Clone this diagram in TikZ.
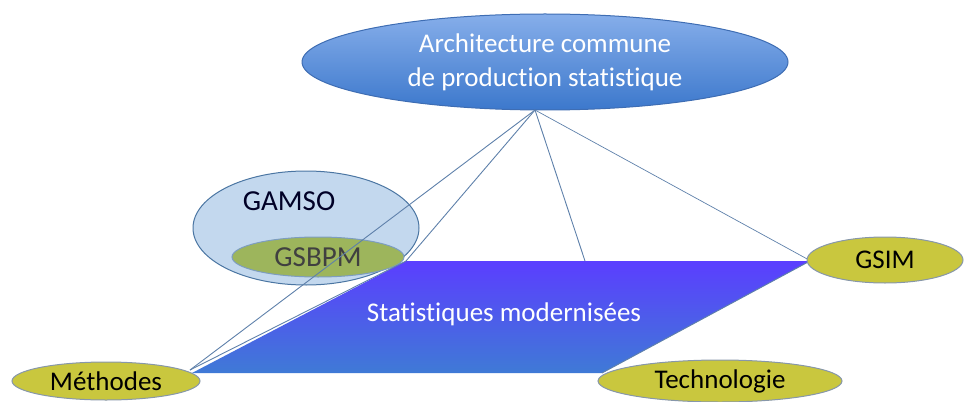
\documentclass[tikz,border=0pt]{standalone}
\usepackage{fontspec}
\setmainfont{Carlito}[Ligatures=NoCommon]
\usetikzlibrary{shapes.geometric,positioning}
\definecolor{archtop}{HTML}{86AEEA}
\definecolor{archbot}{HTML}{3C78CC}
\definecolor{archedge}{HTML}{3E6DB3}
\definecolor{plattop}{HTML}{5B3EFF}
\definecolor{platbot}{HTML}{3F7AD6}
\definecolor{gamsofill}{HTML}{B9D1EB}
\definecolor{gamsoedge}{HTML}{4A75A2}
\definecolor{gsbpmfill}{HTML}{9DB55C}
\definecolor{gsbpmedge}{HTML}{7D9DC0}
\definecolor{leaffill}{HTML}{C9C73E}
\definecolor{leafedge}{HTML}{8797AA}
\definecolor{linkblue}{HTML}{5E80AA}
\newcommand{\bigtxt}{\fontsize{27}{34}\selectfont}
\tikzset{
  leaf/.style={ellipse,draw=leafedge,line width=1pt,fill=leaffill,inner sep=0pt,font=\bigtxt},
  link/.style={draw=linkblue,line width=0.9pt},
  duallink/.style={draw=linkblue,double=white!80!linkblue,double distance=1pt,line width=0.7pt},
}
\begin{document}
\begin{tikzpicture}[x=1pt,y=-1pt]
\useasboundingbox (0,0) rectangle (965,401);
% \draw[help lines,step=50] (0,0) grid (965,401);
\coordinate (pTL) at (406,261);
\coordinate (pTR) at (810,261);
\coordinate (pBR) at (602,373);
\coordinate (pBL) at (192,373);
\coordinate (pM) at (585,261);
\shade[top color=plattop,bottom color=platbot] (pTL) -- (pTR) -- (pBR) -- (pBL) -- cycle;
\node (stat) at (504,314) [text=white,font=\bigtxt] {Statistiques modernisées};
%
\node (arch) [ellipse,minimum width=486,minimum height=96,inner sep=0pt,top color=archtop,bottom color=archbot,draw=archedge,line width=1pt,text=white,align=center,font=\bigtxt] at (545,62) {Architecture commune\\de production statistique};
\coordinate (apex) at (535,110);
\node (gamso) [ellipse,minimum width=226,minimum height=114,fill=gamsofill,fill opacity=0.85,draw=gamsoedge,line width=1pt] at (306,228) {};
\node (gamsoLbl) at (289,201) [text=black!85!blue,font=\fontsize{29}{34}\selectfont] {GAMSO};
\node (gsbpm) [ellipse,minimum width=172,minimum height=40,inner sep=0pt,fill=gsbpmfill,draw=gsbpmedge,line width=1pt,text=black!75,font=\fontsize{29}{34}\selectfont] at (318,257) {GSBPM};
%
\coordinate (mE) at (190,370);
\coordinate (gW) at (809,260);
\path[link] (apex) edge (mE);
\path[link] (apex) edge (pTL);
\path[link] (apex) edge (pM);
\path[duallink] (apex) edge (gW);
\path[link] (pTL) edge (mE);
\path[link] (pTR) edge (pBR);
%
\node (meth) [leaf,minimum width=188,minimum height=38] at (106,381) {Méthodes};
\node (gsim) [leaf,minimum width=156,minimum height=46] at (885,260) {GSIM};
\node (tech) [leaf,minimum width=244,minimum height=42] at (720,381) {Technologie};
\end{tikzpicture}
\end{document}
